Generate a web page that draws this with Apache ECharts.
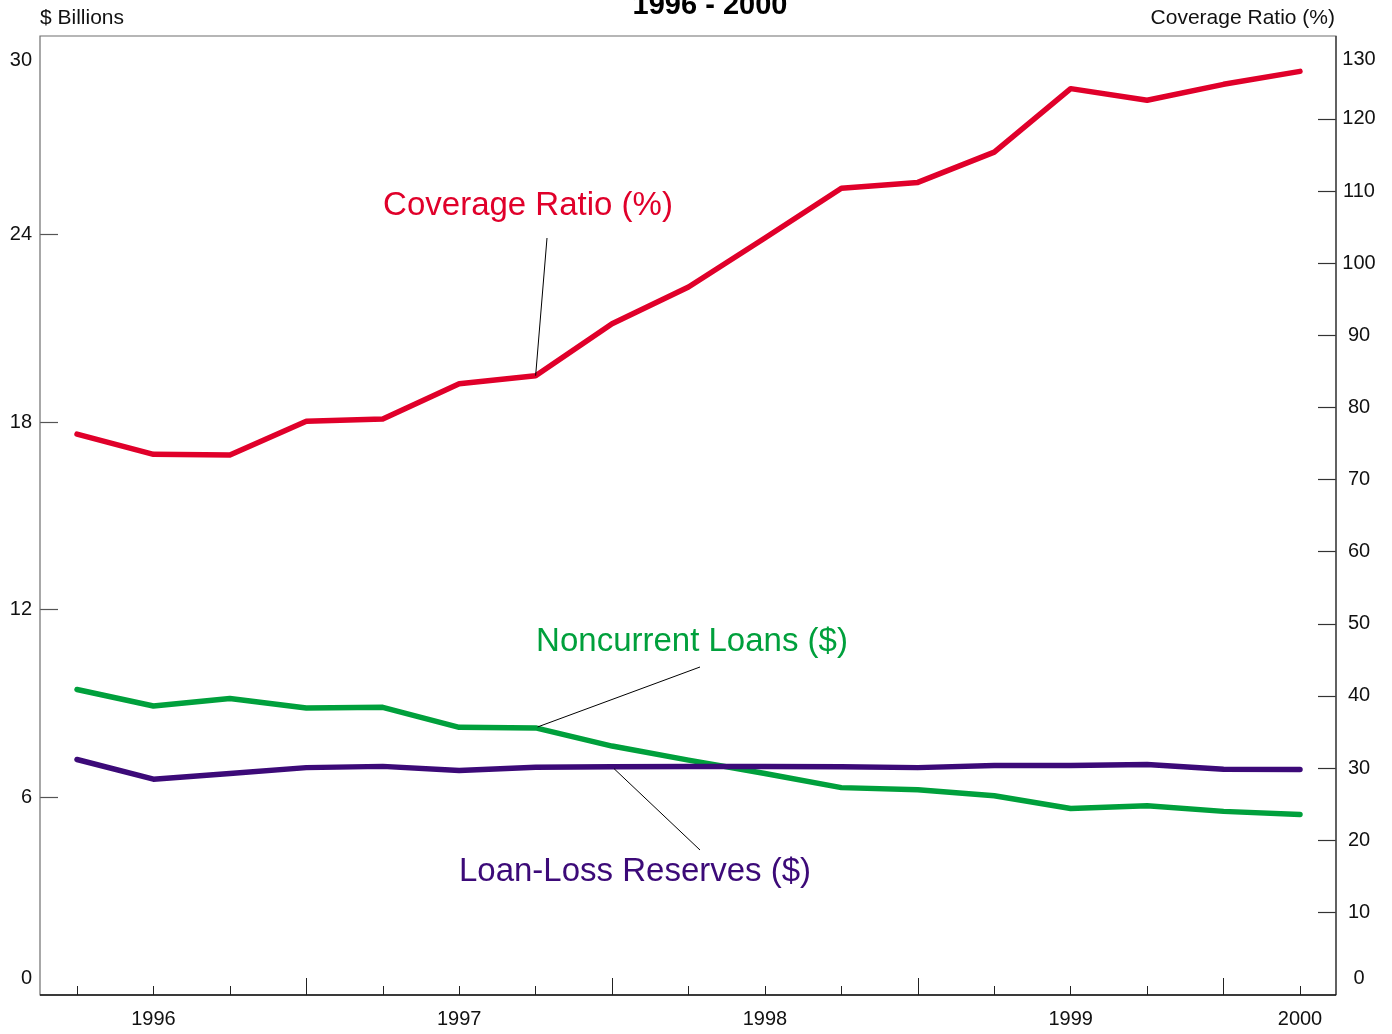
<!DOCTYPE html>
<html><head><meta charset="utf-8">
<script src="https://cdn.jsdelivr.net/npm/echarts@6/dist/echarts.min.js"></script>
<style>html,body{margin:0;padding:0;background:#fff}#c{width:1392px;height:1034px}</style>
</head><body><div id="c"></div>
<script>
const categories = ['1995 Q4','1996 Q1','1996 Q2','1996 Q3','1996 Q4','1997 Q1','1997 Q2','1997 Q3','1997 Q4','1998 Q1','1998 Q2','1998 Q3','1998 Q4','1999 Q1','1999 Q2','1999 Q3','1999 Q4'];
const yearLabels = ['', '1996', '', '', '', '1997', '', '', '', '1998', '', '', '', '1999', '', '', '2000'];
const coverageRatio = [76.3, 73.5, 73.4, 78.1, 78.4, 83.3, 84.4, 91.6, 96.7, 103.5, 110.4, 111.2, 115.4, 124.2, 122.6, 124.8, 126.6];
const noncurrentLoans = [9.44, 8.91, 9.15, 8.85, 8.87, 8.23, 8.21, 7.63, 7.18, 6.75, 6.30, 6.23, 6.04, 5.63, 5.72, 5.54, 5.44];
const loanLossReserves = [7.20, 6.57, 6.75, 6.94, 6.98, 6.85, 6.95, 6.97, 6.98, 6.98, 6.97, 6.94, 7.01, 7.01, 7.04, 6.89, 6.88];
const leftLabelValues = [0, 6, 12, 18, 24, 30];
const leftTickValues = [6, 12, 18, 24];
const rightLabelValues = [0, 10, 20, 30, 40, 50, 60, 70, 80, 90, 100, 110, 120, 130];
const rightTickValues = [10, 20, 30, 40, 50, 60, 70, 80, 90, 100, 110, 120];
const majorTickIdx = [3, 7, 11, 15];

const FONT = '"Liberation Sans", Arial, Helvetica, sans-serif';
const RED = '#e0002a', GREEN = '#00a03c', PURPLE = '#3c0a78';

const richEnds = {
  lo: {padding: [0, 0, 13, 0], fontSize: 20, color: '#111', fontFamily: FONT},
  hi: {padding: [26, 0, 0, 0], fontSize: 20, color: '#111', fontFamily: FONT}
};
function endFormatter(minV, maxV) {
  return function (v) {
    if (v === minV) return '{lo|' + v + '}';
    if (v === maxV) return '{hi|' + v + '}';
    return String(v);
  };
}

const chart = echarts.init(document.getElementById('c'), null, {renderer: 'canvas'});
chart.setOption({
  animation: false,
  backgroundColor: '#fff',
  textStyle: {fontFamily: FONT},
  grid: {left: 77, right: 92, top: 36, bottom: 39, containLabel: false},
  xAxis: [{
    type: 'category', data: categories, boundaryGap: false, position: 'bottom',
    axisLine: {show: false, onZero: false},
    axisTick: {show: true, inside: true, length: 9, interval: 0, lineStyle: {color: '#222', width: 1}},
    axisLabel: {interval: 0, margin: 14, fontSize: 20, color: '#111', fontFamily: FONT,
      formatter: (v, i) => yearLabels[i]},
    splitLine: {show: false}
  }, {
    type: 'category', data: categories, boundaryGap: false, position: 'bottom',
    axisLine: {show: false, onZero: false},
    axisTick: {show: true, inside: true, length: 17, interval: (i) => majorTickIdx.indexOf(i) >= 0, lineStyle: {color: '#222', width: 1}},
    axisLabel: {show: false},
    splitLine: {show: false}
  }],
  yAxis: [{
    type: 'value', min: -0.336, max: 30.352, position: 'left', offset: 37,
    axisLine: {show: false},
    axisTick: {show: true, inside: true, length: 18, customValues: leftTickValues, lineStyle: {color: '#555', width: 1.2}},
    axisLabel: {margin: 8, fontSize: 20, color: '#111', fontFamily: FONT, customValues: leftLabelValues,
      formatter: endFormatter(0, 30), rich: richEnds},
    splitLine: {show: false}
  }, {
    type: 'value', min: -1.456, max: 131.5, position: 'right', offset: 36,
    axisLine: {show: false},
    axisTick: {show: true, inside: true, length: 18, customValues: rightTickValues, lineStyle: {color: '#333', width: 1.2}},
    axisLabel: {margin: 23, align: 'center', fontSize: 20, color: '#111', fontFamily: FONT, customValues: rightLabelValues,
      formatter: endFormatter(0, 130), rich: richEnds},
    splitLine: {show: false}
  }],
  series: [{
    name: 'Coverage Ratio (%)', type: 'line', yAxisIndex: 1, data: coverageRatio,
    showSymbol: false, lineStyle: {color: RED, width: 5.5, cap: 'round', join: 'round'}, z: 3
  }, {
    name: 'Noncurrent Loans ($)', type: 'line', yAxisIndex: 0, data: noncurrentLoans,
    showSymbol: false, lineStyle: {color: GREEN, width: 5.5, cap: 'round', join: 'round'}, z: 3
  }, {
    name: 'Loan-Loss Reserves ($)', type: 'line', yAxisIndex: 0, data: loanLossReserves,
    showSymbol: false, lineStyle: {color: PURPLE, width: 5.5, cap: 'round', join: 'round'}, z: 4
  }]
});

const pCov = chart.convertToPixel({seriesIndex: 0}, [6, coverageRatio[6]]);
const pNon = chart.convertToPixel({seriesIndex: 1}, [6, noncurrentLoans[6]]);
const pLoss = chart.convertToPixel({seriesIndex: 2}, [7, loanLossReserves[7]]);

function txt(text, x, y, size, color, align, weight) {
  return {type: 'text', x: x, y: y, z: 10, style: {text: text, fill: color, font: (weight || 'normal') + ' ' + size + 'px ' + FONT, textAlign: align, textVerticalAlign: 'middle'}};
}
function ln(x1, y1, x2, y2, color, w) {
  return {type: 'line', z: 10, shape: {x1: x1, y1: y1, x2: x2, y2: y2}, style: {stroke: color, lineWidth: w}};
}
chart.setOption({
  graphic: [
    {type: 'rect', z: 1, shape: {x: 40, y: 36, width: 1296, height: 959}, style: {fill: null, stroke: '#6e6e6e', lineWidth: 1.2}},
    ln(1336, 36, 1336, 995, '#333', 1.2),
    ln(40, 995, 1336, 995, '#111', 1.5),
    txt('1996 - 2000', 710, 6, 29, '#000', 'center', 'bold'),
    txt('$ Billions', 40, 18, 21, '#111', 'left'),
    txt('Coverage Ratio (%)', 1335, 18, 21, '#111', 'right'),
    txt('Coverage Ratio (%)', 528, 206, 33, RED, 'center'),
    txt('Noncurrent Loans ($)', 692, 642, 33, GREEN, 'center'),
    txt('Loan-Loss Reserves ($)', 635, 872, 33, PURPLE, 'center'),
    ln(547, 238, pCov[0], pCov[1], '#000', 1),
    ln(700, 667, pNon[0] + 2, pNon[1] - 1, '#000', 1),
    ln(700, 850, pLoss[0] + 2, pLoss[1] + 2, '#000', 1)
  ]
});
</script></body></html>
